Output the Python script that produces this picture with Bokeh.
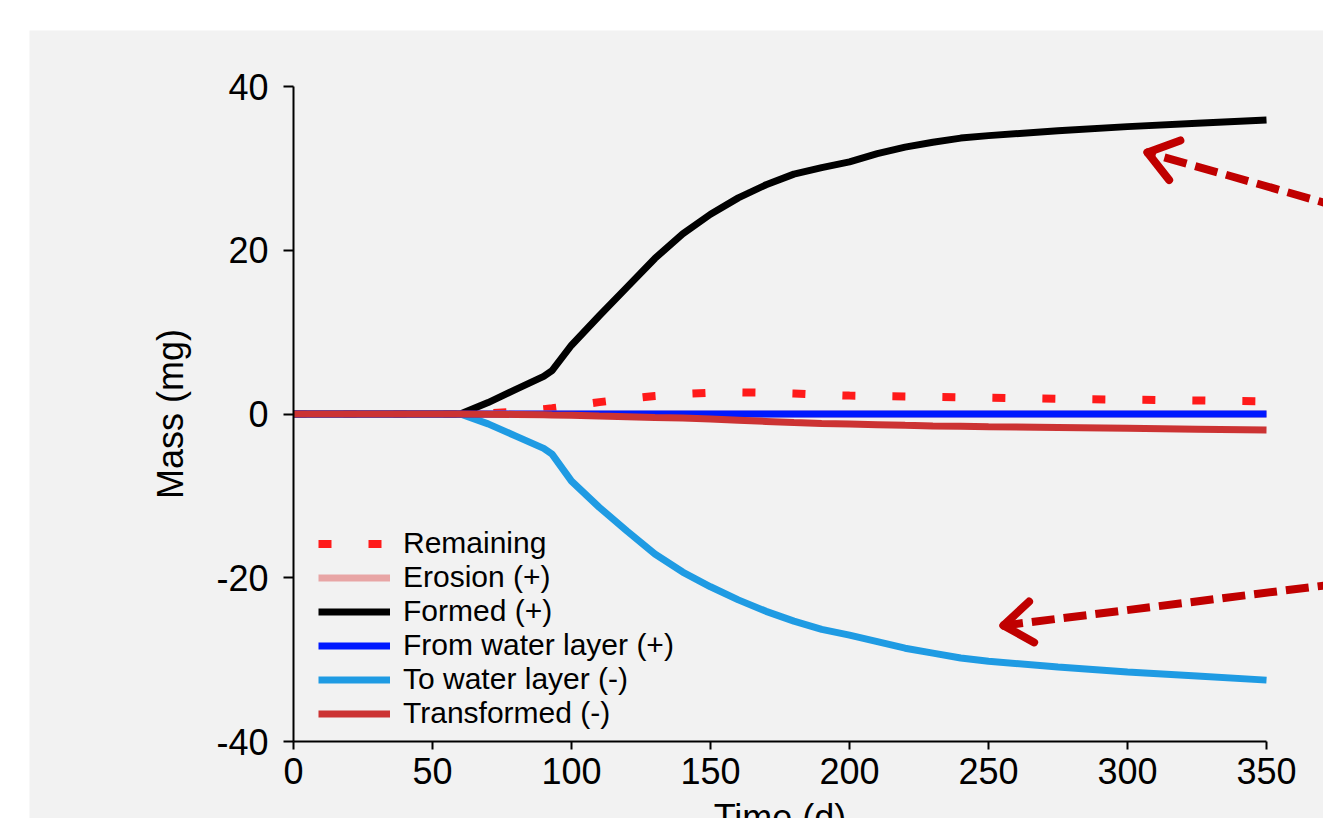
import math
from bokeh.plotting import figure
from bokeh.models import Range1d, Legend, LegendItem, Arrow
from bokeh.embed import file_html
from bokeh.resources import INLINE

# ---- data ----
time_d = [0, 20, 40, 60, 70, 80, 90, 93, 100, 110, 120, 130, 140, 150, 160, 170,
          180, 190, 200, 210, 220, 230, 240, 250, 275, 300, 325, 350]
remaining = [0, 0, 0, 0, 0.1, 0.3, 0.6, 0.7, 1.0, 1.45, 1.85, 2.2, 2.45, 2.6, 2.65, 2.6,
             2.5, 2.35, 2.25, 2.2, 2.15, 2.1, 2.05, 2.0, 1.85, 1.75, 1.65, 1.55]
erosion = [0] * 28
formed = [0, 0, 0, 0, 1.4, 3.0, 4.6, 5.3, 8.4, 12.0, 15.5, 19.0, 22.0, 24.4, 26.4, 28.0,
          29.3, 30.1, 30.8, 31.8, 32.6, 33.2, 33.7, 34.0, 34.6, 35.1, 35.5, 35.9]
from_water = [0] * 28
to_water = [0, 0, 0, 0, -1.2, -2.7, -4.2, -4.9, -8.2, -11.4, -14.3, -17.1, -19.3, -21.1,
            -22.7, -24.1, -25.3, -26.3, -27.0, -27.8, -28.6, -29.2, -29.8, -30.2, -30.9,
            -31.5, -32.0, -32.5]
transformed = [0, 0, 0, 0, -0.02, -0.05, -0.1, -0.12, -0.15, -0.25, -0.33, -0.42, -0.5,
               -0.6, -0.75, -0.9, -1.05, -1.15, -1.22, -1.3, -1.38, -1.45, -1.5, -1.55,
               -1.65, -1.75, -1.85, -1.95]

series_names = ["Remaining", "Erosion (+)", "Formed (+)", "From water layer (+)",
                "To water layer (-)", "Transformed (-)"]
x_ticks = [0, 50, 100, 150, 200, 250, 300, 350]
y_ticks = [-40, -20, 0, 20, 40]
y_tick_labels = {-40: "-40", -20: "-20", 0: "0", 20: "20", 40: "40"}

# annotation arrows (data coords: start beyond right edge -> tip)
arrow_start_x = [376.6, 376.6]
arrow_start_y = [25.25, -20.7]
arrow_tip_x = [307.2, 255.4]
arrow_tip_y = [31.94, -25.83]

FONT = "Liberation Sans"
BG = "#f2f2f2"
ARROW_RED = "#c00000"

W, H = 1294, 788
X0, X1 = -94.96, 370.5
Y0, Y1 = -49.4, 46.84

# the frame fills the whole grey panel; axes are pinned at x=0 / y=-40
p = figure(width=W, height=H, output_backend="svg", toolbar_location=None,
           x_range=Range1d(X0, X1), y_range=Range1d(Y0, Y1),
           min_border_left=0, min_border_right=0, min_border_top=0,
           min_border_bottom=0)
p.margin = (30, 0, 0, 29)
p.background_fill_color = BG
p.border_fill_color = BG
p.outline_line_color = None
p.grid.visible = False

for ax in (p.xaxis[0], p.yaxis[0]):
    ax.axis_line_width = 2
    ax.axis_line_color = "black"
    ax.major_tick_line_width = 2
    ax.major_tick_line_color = "black"
    ax.major_tick_in = 0
    ax.minor_tick_line_color = None
    ax.major_label_text_font = FONT
    ax.major_label_text_font_size = "36px"
    ax.major_label_text_color = "black"
    ax.axis_label_text_font = FONT
    ax.axis_label_text_font_size = "36px"
    ax.axis_label_text_font_style = "normal"
    ax.axis_label_text_color = "black"

p.xaxis.fixed_location = -40
p.yaxis.fixed_location = 0
p.xaxis.bounds = (0, 350)
p.yaxis.bounds = (-40, 40)
p.xaxis.ticker = x_ticks
p.yaxis.ticker = y_ticks
p.yaxis.major_label_overrides = y_tick_labels
p.xaxis.major_tick_out = 8
p.yaxis.major_tick_out = 10
p.xaxis.major_label_standoff = 8
p.yaxis.major_label_standoff = 15
p.xaxis.axis_label = "Time (d)"
p.xaxis.axis_label_standoff = 10
p.yaxis.axis_label = "Mass (mg)"
p.yaxis.axis_label_standoff = 22

LW = 7
r_rem = p.line(time_d, remaining, line_color="#ff1a1a", line_width=8, line_dash="13 37")
r_ero = p.line(time_d, erosion, line_color="#e8a5a5", line_width=LW)
r_for = p.line(time_d, formed, line_color="black", line_width=LW)
r_to = p.line(time_d, to_water, line_color="#1f9be3", line_width=LW)
r_from = p.line(time_d, from_water, line_color="#0019ff", line_width=LW)
r_tr = p.line(time_d, transformed, line_color="#cc3333", line_width=LW)

items = [LegendItem(label=n, renderers=[r]) for n, r in
         zip(series_names, [r_rem, r_ero, r_for, r_from, r_to, r_tr])]
legend = Legend(items=items, location=(289, 88), padding=0, margin=0, spacing=0,
                glyph_width=72, glyph_height=33, label_height=33, label_standoff=13,
                label_text_font=FONT, label_text_font_size="30px",
                label_text_color="black", border_line_alpha=0,
                background_fill_alpha=0)
p.add_layout(legend)

# dashed arrow shafts + open heads with a wide (about 36 degree) half-angle
kx = W / (X1 - X0)   # px per x unit
ky = H / (Y1 - Y0)   # px per y unit
HEAD_LEN, HEAD_ANG = 35, math.radians(36)
for sx, sy, ex, ey in zip(arrow_start_x, arrow_start_y, arrow_tip_x, arrow_tip_y):
    p.add_layout(Arrow(x_start=sx, y_start=sy, x_end=ex, y_end=ey, end=None,
                       line_color=ARROW_RED, line_width=8, line_dash="23 9"))
    bx, by = (sx - ex) * kx, (sy - ey) * ky
    base = math.atan2(by, bx)
    for sgn in (-1, 1):
        a = base + sgn * HEAD_ANG
        ax_ = ex + HEAD_LEN * math.cos(a) / kx
        ay_ = ey + HEAD_LEN * math.sin(a) / ky
        p.add_layout(Arrow(x_start=ax_, y_start=ay_, x_end=ex, y_end=ey, end=None,
                           line_color=ARROW_RED, line_width=8, line_cap="round"))

open("out.html", "w").write(file_html(p, INLINE))
